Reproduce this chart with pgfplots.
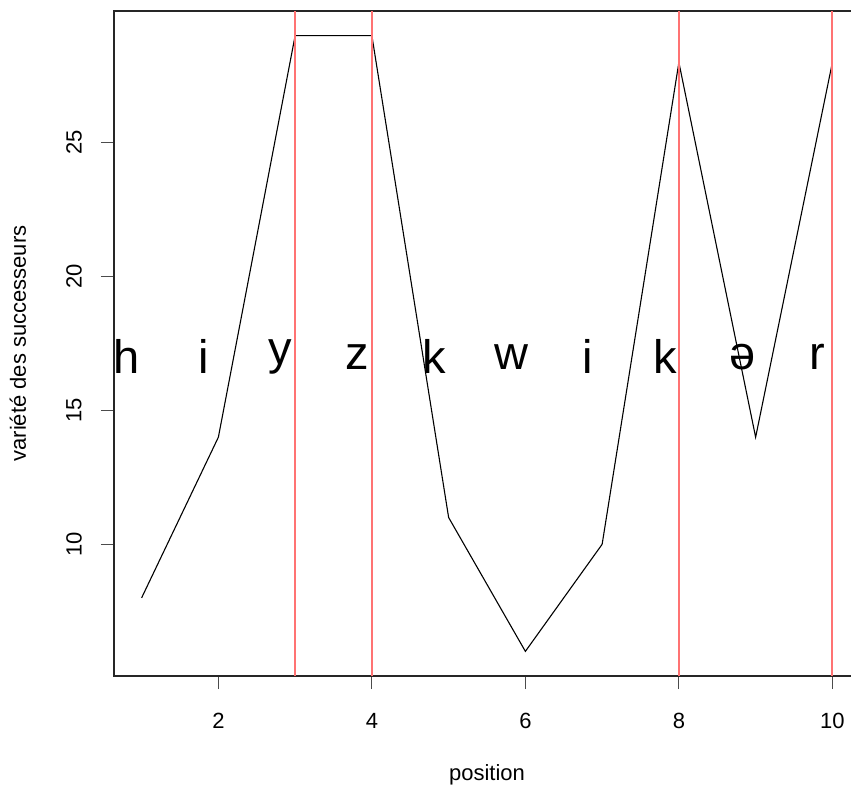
\documentclass[border=0pt]{standalone}
\usepackage{fontspec}
\setmainfont{Liberation Sans}
\usepackage{pgfplots}
\pgfplotsset{compat=1.18}
\definecolor{ablinered}{RGB}{255,115,115}

\newcommand{\tickfont}{\fontsize{22}{26}\selectfont}
\newcommand{\bigfont}{\fontsize{47}{50}\selectfont}

\begin{document}
\begin{tikzpicture}[x=1pt,y=1pt]
\begin{axis}[
  at={(0,0)}, anchor=south west,
  scale only axis, width=746pt, height=665pt,
  xmin=0.64, xmax=10.36, ymin=5.08, ymax=29.92,
  xtick={2,4,6,8,10}, ytick={10,15,20,25},
  xtick pos=left, ytick pos=left,
  tick align=outside, major tick length=13pt,
  axis line style={black!85, line width=1.2pt},
  tick style={black!70, line width=1.2pt},
  /pgf/number format/assume math mode=true,
  ticklabel style={font=\tickfont, inner sep=0pt},
  xticklabel style={anchor=center, yshift=-32pt},
  yticklabel style={anchor=center, xshift=-27pt, rotate=90},
  xlabel={position}, ylabel={variété des successeurs},
  label style={font=\tickfont},
  xlabel style={at={(axis description cs:0.5,-0.149)}, anchor=center},
  ylabel style={at={(axis description cs:-0.1287,0.5)}, anchor=center},
  clip=true,
]
% variete des successeurs par position
\addplot[black, line width=1.1pt] coordinates {
  (1,8) (2,14) (3,29) (4,29) (5,11)
  (6,6) (7,10) (8,28) (9,14) (10,28)
};
% coupures
\addplot[ablinered, line width=2pt] coordinates {(3,5.08) (3,29.92)};
\addplot[ablinered, line width=2pt] coordinates {(4,5.08) (4,29.92)};
\addplot[ablinered, line width=2pt] coordinates {(8,5.08) (8,29.92)};
\addplot[ablinered, line width=2pt] coordinates {(10,5.08) (10,29.92)};

\foreach \pos/\ch in {0.81/h, 1.81/i, 2.81/y, 3.81/z, 4.81/k, 5.82/w, 6.81/i, 7.82/k, 8.83/ə, 9.81/r}{
  \edef\temp{\noexpand\node[font=\noexpand\bigfont, anchor=center, inner sep=0pt]
    at (axis cs:\pos,17) {\ch};}
  \temp
}
\end{axis}
\pgfresetboundingbox
\path[use as bounding box] (-114,-111) rectangle (737,676);
\end{tikzpicture}
\end{document}
